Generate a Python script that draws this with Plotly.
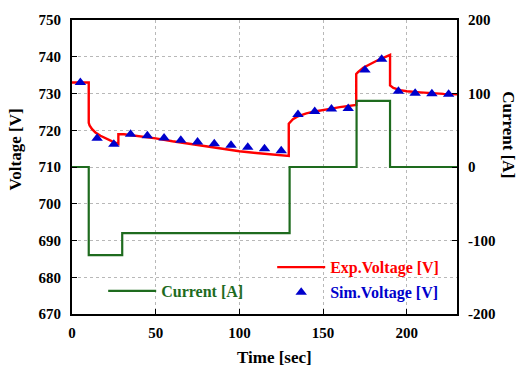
import plotly.graph_objects as go

# ---- data ----
time_exp = [0, 10, 10, 10.5, 12, 14, 17, 20, 24, 27.7, 27.7, 31, 40, 50, 60, 70, 80, 90, 100, 110, 120, 129.5,
            129.5, 130.5, 132, 134.5, 140, 145, 150, 155, 160, 165, 169.8,
            169.8, 171, 174, 178, 182, 186, 190,
            190, 192, 196, 200, 208, 215, 222, 230]
volt_exp = [733, 733, 722, 721.3, 720.3, 719.4, 718.5, 717.8, 717.0, 716.3, 718.9, 718.9, 718.4, 717.8, 717.0, 716.3, 715.6, 715.0, 714.3, 713.8, 713.4, 713.0,
            721.8, 722.4, 723.0, 723.7, 724.6, 725.1, 725.6, 725.9, 726.3, 726.6, 726.9,
            735.3, 735.9, 737.0, 738.0, 738.9, 739.7, 740.5,
            732.2, 731.5, 730.9, 730.6, 730.3, 730.0, 729.9, 729.8]

time_sim = [5, 15, 25, 35, 45, 55, 65, 75, 85, 95, 105, 115, 125, 135, 145, 155, 165, 175, 185, 195, 205, 215, 225]
volt_sim = [733.0, 717.8, 716.2, 718.9, 718.5, 717.9, 717.3, 716.8, 716.3, 715.9, 715.4, 715.0, 714.4,
            724.3, 725.1, 725.8, 725.9, 736.4, 739.3, 730.6, 730.1, 729.9, 729.8]

time_cur = [0, 10, 30, 130, 170, 190, 230]
current = [0, -120, -90, 0, 90, 0, 0]

x_ticks = [0, 50, 100, 150, 200]
v_ticks = [670, 680, 690, 700, 710, 720, 730, 740, 750]
c_ticks = [-200, -100, 0, 100, 200]
c_tick_labels = ["-200", "-100", "0", "100", "200"]

GREEN = "#1e6b1e"
RED = "#ff0000"
BLUE = "#0000cc"
FONT = "Liberation Serif"

fig = go.Figure()

fig.add_trace(go.Scatter(
    x=time_cur, y=current, mode="lines", line=dict(color=GREEN, width=2.2, shape="hv"),
    name="Current [A]", yaxis="y2", legend="legend"))
fig.add_trace(go.Scatter(
    x=time_exp, y=volt_exp, mode="lines", line=dict(color=RED, width=2.4),
    name="Exp.Voltage [V]", legend="legend2"))
fig.add_trace(go.Scatter(
    x=time_sim, y=volt_sim, mode="markers",
    marker=dict(symbol="triangle-up", color=BLUE, size=10),
    name="Sim.Voltage [V]", legend="legend3"))

tickfont = dict(family=FONT, size=15, color="black", weight="bold")
axis_common = dict(showline=True, linecolor="black", linewidth=2.2,
                   ticks="inside", ticklen=5, tickcolor="black", tickwidth=1,
                   tickfont=tickfont, zeroline=False)

fig.update_layout(
    width=523, height=370,
    margin=dict(l=72, r=66, t=18, b=56),
    paper_bgcolor="white", plot_bgcolor="white",
    showlegend=True,
    xaxis=dict(range=[0, 230], tickvals=x_ticks, mirror=True,
               showgrid=True, gridcolor="#b8b8b8", griddash="dot", gridwidth=1,
               ticklabelstandoff=4, **axis_common),
    yaxis=dict(range=[670, 750], tickvals=v_ticks,
               showgrid=True, gridcolor="#b8b8b8", griddash="dot", gridwidth=1,
               ticklabelstandoff=6, **axis_common),
    yaxis2=dict(range=[-200, 200], tickvals=c_ticks, ticktext=c_tick_labels,
                overlaying="y", side="right",
                showgrid=False, ticklabelstandoff=6, **axis_common),
    legend=dict(x=0.081, y=0.078, xanchor="left", yanchor="middle", bgcolor="rgba(0,0,0,0)",
                itemwidth=48, font=dict(family=FONT, size=16, color=GREEN, weight="bold")),
    legend2=dict(x=0.52, y=0.159, xanchor="left", yanchor="middle", bgcolor="rgba(0,0,0,0)",
                 itemwidth=48, font=dict(family=FONT, size=16, color=RED, weight="bold")),
    legend3=dict(x=0.52, y=0.074, xanchor="left", yanchor="middle", bgcolor="rgba(0,0,0,0)",
                 itemwidth=48, font=dict(family=FONT, size=16, color=BLUE, weight="bold")),
    annotations=[
        dict(text="Time [sec]", xref="paper", yref="paper", x=0.525, y=-0.148, xanchor="center", yanchor="middle",
             showarrow=False, font=dict(family=FONT, size=17, color="black", weight="bold")),
        dict(text="Voltage [V]", xref="paper", yref="paper", x=-0.148, y=0.56, xanchor="center", yanchor="middle",
             textangle=-90, showarrow=False, font=dict(family=FONT, size=17, color="black", weight="bold")),
        dict(text="Current [A]", xref="paper", yref="paper", x=1.135, y=0.608, xanchor="center", yanchor="middle",
             textangle=90, showarrow=False, font=dict(family=FONT, size=17, color="black", weight="bold")),
    ],
)

fig.write_html("out.html")
